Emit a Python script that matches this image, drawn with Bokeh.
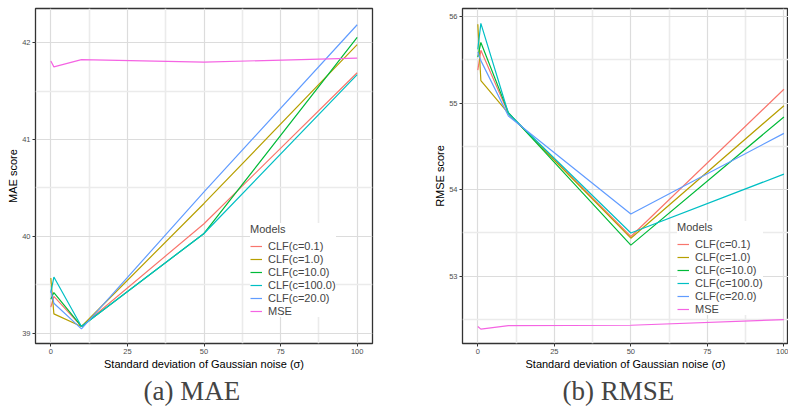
from bokeh.plotting import figure
from bokeh.layouts import row
from bokeh.models import FixedTicker, Range1d, Title, Legend, LegendItem
from bokeh.embed import file_html
from bokeh.resources import INLINE

# ---- data ----
sigma = [0, 1, 10, 50, 100]
models = ["CLF(c=0.1)", "CLF(c=1.0)", "CLF(c=10.0)", "CLF(c=100.0)", "CLF(c=20.0)", "MSE"]
colors = ["#F8766D", "#B79F00", "#00BA38", "#00BFC4", "#619CFF", "#F564E3"]

mae_clf_01 = [39.27, 39.38, 39.07, 40.13, 41.69]
mae_clf_1 = [39.57, 39.20, 39.07, 40.34, 41.98]
mae_clf_10 = [39.35, 39.42, 39.07, 40.03, 42.055]
mae_clf_100 = [39.42, 39.58, 39.07, 40.03, 41.67]
mae_clf_20 = [39.44, 39.31, 39.045, 40.46, 42.185]
mae_mse = [41.81, 41.75, 41.825, 41.80, 41.84]

rmse_clf_01 = [55.38, 55.61, 54.88, 53.46, 55.16]
rmse_clf_1 = [55.91, 55.26, 54.88, 53.44, 54.97]
rmse_clf_10 = [55.53, 55.70, 54.89, 53.36, 54.84]
rmse_clf_100 = [55.62, 55.92, 54.88, 53.50, 54.18]
rmse_clf_20 = [55.59, 55.49, 54.85, 53.72, 54.65]
rmse_mse = [52.42, 52.39, 52.43, 52.435, 52.50]

x_ticks = [0, 25, 50, 75, 100]
x_minor = [12.5, 37.5, 62.5, 87.5]
mae_ticks = [39, 40, 41, 42]
mae_minor = [39.5, 40.5, 41.5]
rmse_ticks = [53, 54, 55, 56]
rmse_minor = [52.5, 53.5, 54.5, 55.5]

SANS = "Liberation Sans"
SERIF = "Liberation Serif"
H = 413


def make_panel(series, width, x_range, y_range, yticks, yminor, ylabel, caption,
               mb_left, mb_right, mb_top, mb_bottom, cap_offset, legend_loc):
    p = figure(width=width, height=H, output_backend="svg", toolbar_location=None,
               x_range=Range1d(*x_range), y_range=Range1d(*y_range),
               min_border_left=mb_left, min_border_right=mb_right,
               min_border_top=mb_top, min_border_bottom=mb_bottom)
    p.background_fill_color = "white"
    p.border_fill_color = "white"
    p.outline_line_color = "#333333"
    p.outline_line_width = 1.3

    p.xaxis.ticker = FixedTicker(ticks=x_ticks, minor_ticks=x_minor)
    p.yaxis.ticker = FixedTicker(ticks=yticks, minor_ticks=yminor)
    for ax in (p.xaxis[0], p.yaxis[0]):
        ax.axis_line_color = None
        ax.major_tick_line_color = "#333333"
        ax.major_tick_out = 3
        ax.major_tick_in = 0
        ax.minor_tick_line_color = None
        ax.major_label_text_font = SANS
        ax.major_label_text_font_size = "7.5px"
        ax.major_label_text_color = "#4D4D4D"
        ax.major_label_standoff = 1
        ax.axis_label_text_font = SANS
        ax.axis_label_text_font_size = "11px"
        ax.axis_label_text_font_style = "normal"
        ax.axis_label_text_color = "black"
        ax.axis_label_standoff = 1
    p.yaxis[0].axis_label_standoff = 0
    p.xaxis.axis_label = "Standard deviation of Gaussian noise (\u03c3)"
    p.yaxis.axis_label = ylabel

    for g in (p.xgrid[0], p.ygrid[0]):
        g.grid_line_color = "#DCDCDC"
        g.grid_line_width = 1.2
        g.minor_grid_line_color = "#EBEBEB"
        g.minor_grid_line_width = 1.6

    items = []
    for name, vals, col in zip(models, series, colors):
        r = p.line(sigma, vals, line_color=col, line_width=1.2)
        items.append(LegendItem(label=name, renderers=[r]))

    leg = Legend(items=items, location=legend_loc, title="Models",
                 title_text_font=SANS, title_text_font_size="11px",
                 title_text_font_style="normal", title_standoff=5,
                 label_text_font=SANS, label_text_font_size="11px",
                 label_height=12, glyph_height=12, glyph_width=12,
                 label_standoff=6, spacing=1, padding=4, margin=0,
                 border_line_color=None, background_fill_color="white",
                 background_fill_alpha=1.0)
    p.add_layout(leg, "center")

    cap = Title(text=caption, text_font=SERIF, text_font_size="27px",
                text_font_style="normal", align="left", offset=cap_offset,
                standoff=2)
    p.add_layout(cap, "below")
    return p


p1 = make_panel([mae_clf_01, mae_clf_1, mae_clf_10, mae_clf_100, mae_clf_20, mae_mse],
                420, (-5, 105), (38.894, 42.353), mae_ticks, mae_minor, "MAE score",
                "(a) MAE", 35, 48, 7, 70, 108, (215, 26))
p2 = make_panel([rmse_clf_01, rmse_clf_1, rmse_clf_10, rmse_clf_100, rmse_clf_20, rmse_mse],
                368, (-5, 101.5), (52.224, 56.092), rmse_ticks, rmse_minor, "RMSE score",
                "(b) RMSE", 42, 0, 8, 70, 100, (215, 28))

layout = row(p1, p2)
open("out.html", "w").write(file_html(layout, INLINE))
